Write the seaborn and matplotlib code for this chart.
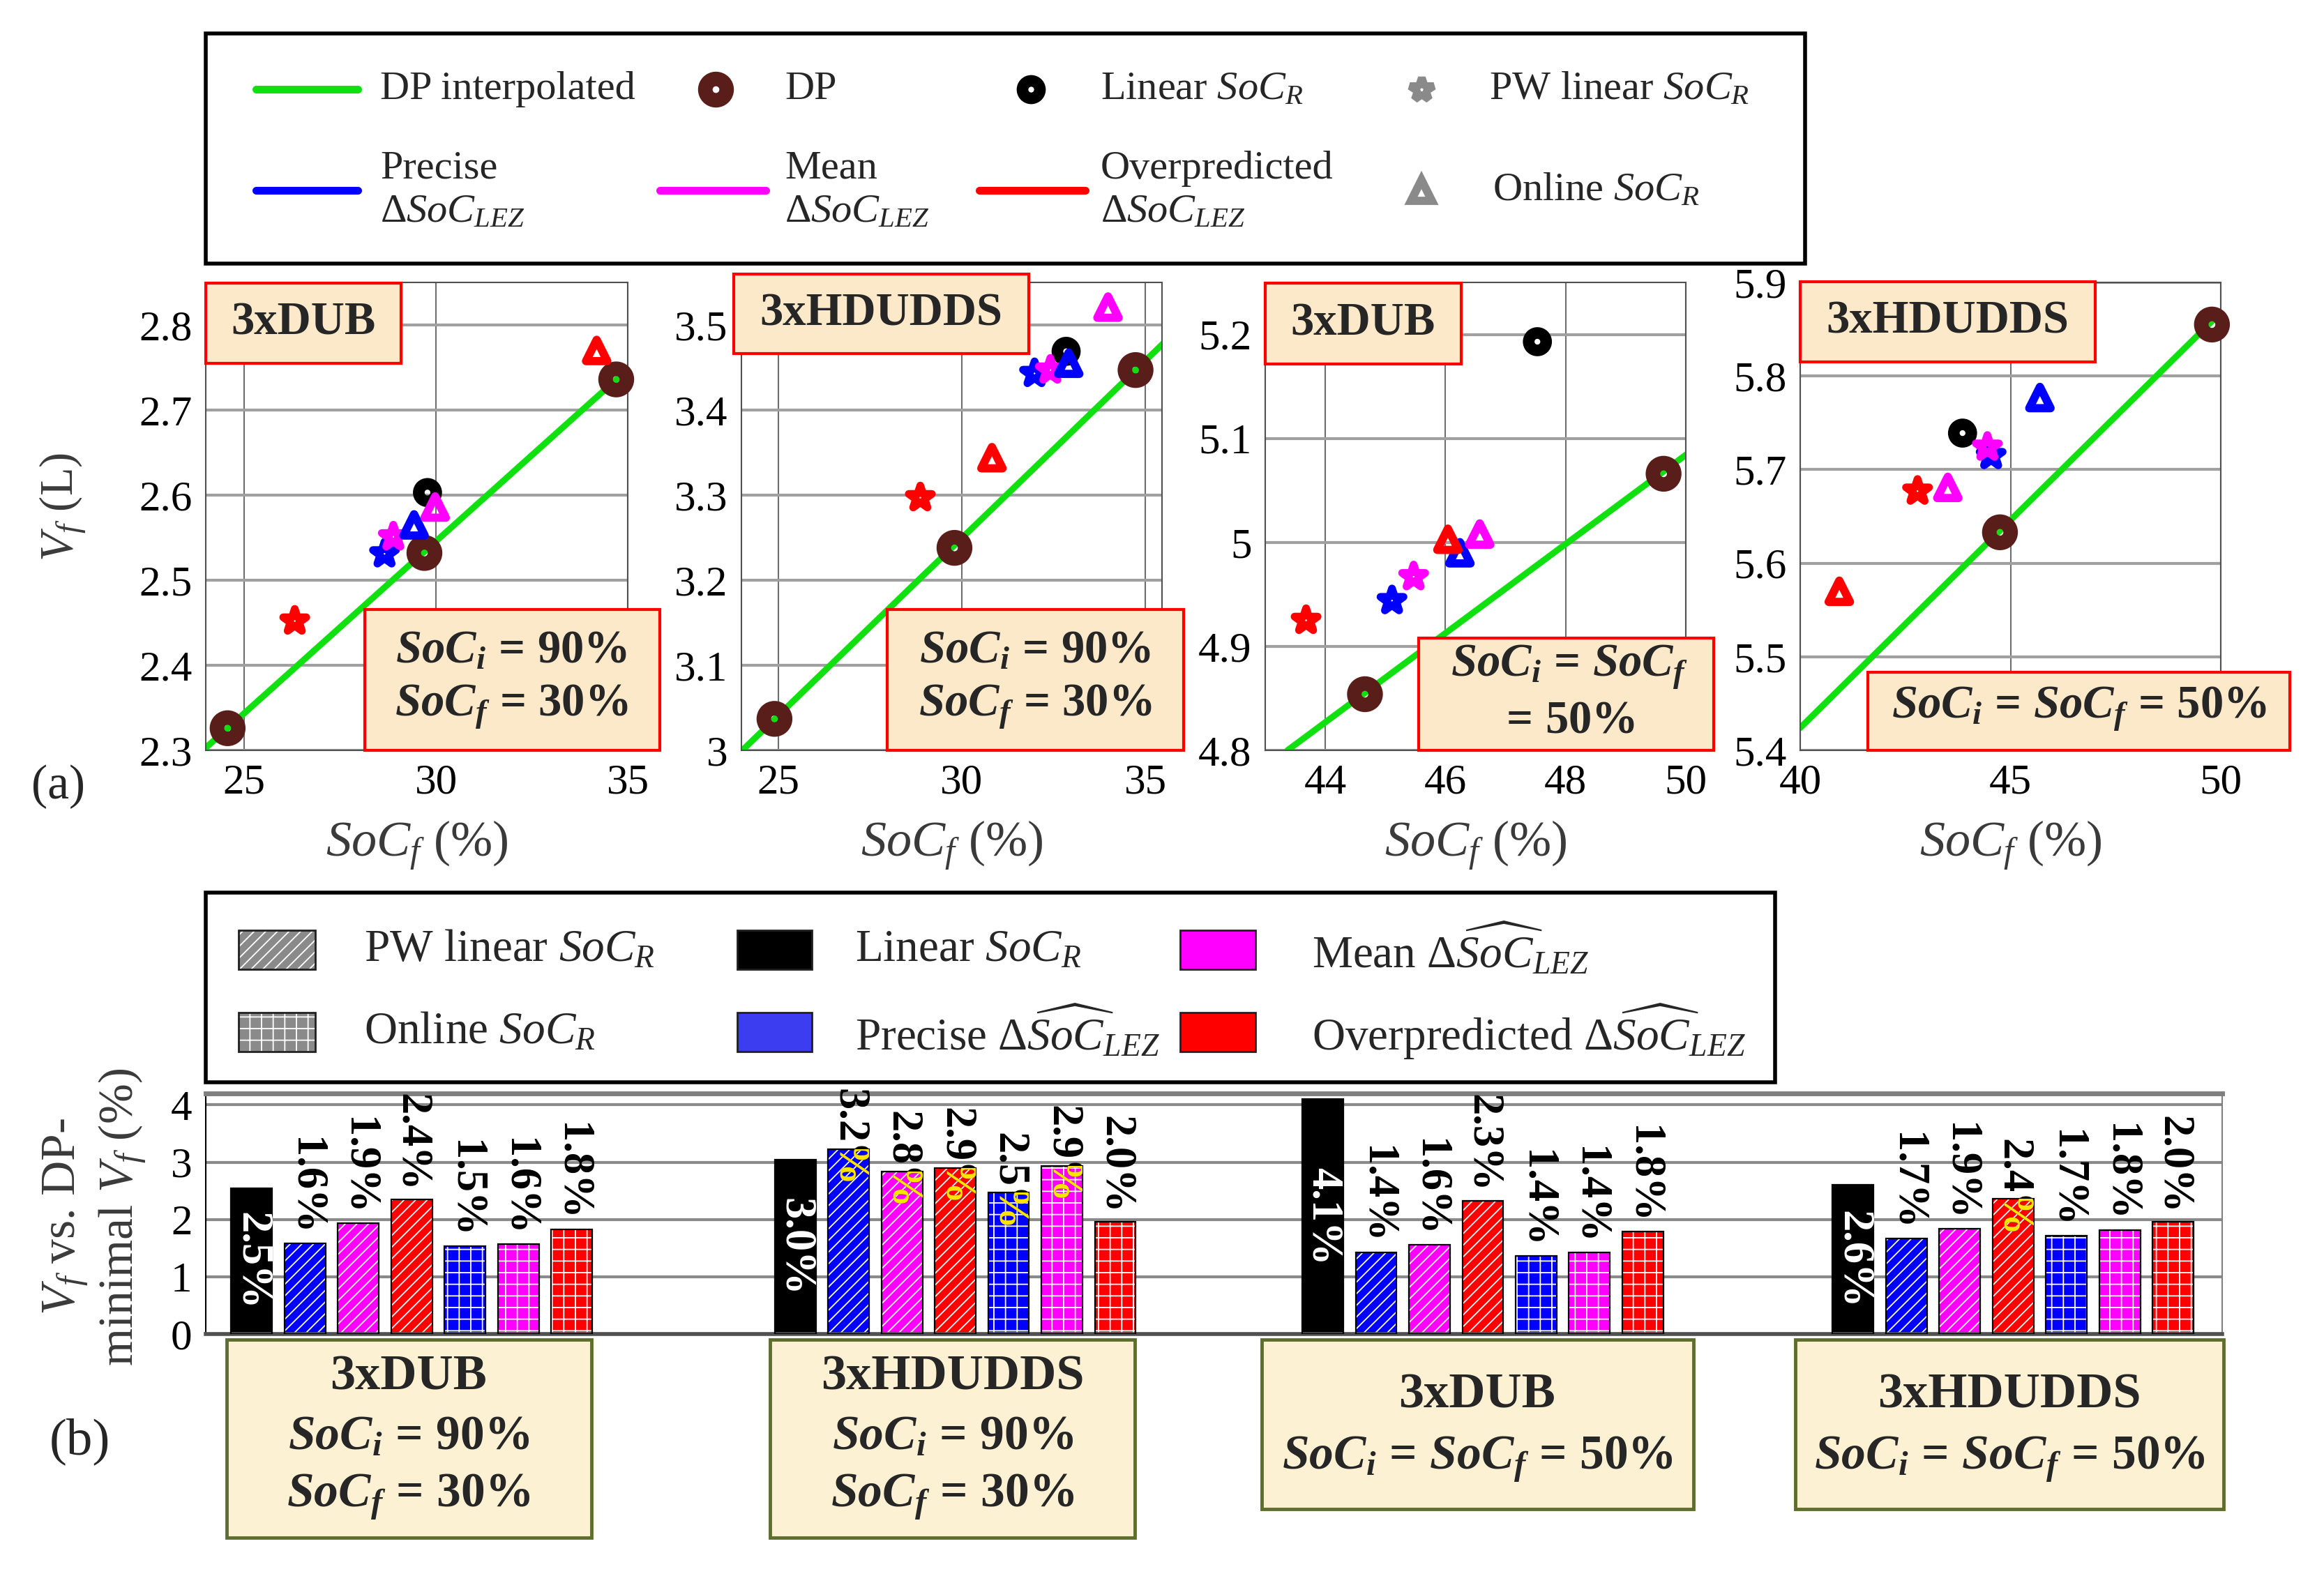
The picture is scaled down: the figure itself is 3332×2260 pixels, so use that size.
"""
plot.py
-------
Final-SoC / fuel-volume scatter panels (a) and relative fuel-increase bars (b).
Run: python plot.py  ->  out.png
"""

import matplotlib
matplotlib.use("Agg")
import matplotlib.pyplot as plt
from matplotlib.patches import Rectangle
from matplotlib.lines import Line2D
from matplotlib.ticker import FuncFormatter
from matplotlib import mathtext
import seaborn as sns

sns.set_style("whitegrid")
plt.rcParams["font.family"] = ["Liberation Serif", "DejaVu Serif"]
plt.rcParams["mathtext.fontset"] = "custom"
plt.rcParams["mathtext.rm"] = "Liberation Serif"
plt.rcParams["mathtext.it"] = "Liberation Serif:italic"
plt.rcParams["mathtext.bf"] = "Liberation Serif:bold"
try:
    plt.rcParams["mathtext.bfit"] = "Liberation Serif:italic:bold"
    mathtext.MathTextParser("path").parse(r"$\mathbfit{S}$")
    BFIT = r"\mathbfit"
except Exception:
    BFIT = r"\mathit"
plt.rcParams["hatch.linewidth"] = 1.3

# ---------- data: (a) scatter panels ------------------------------------
# DP interpolated line (end points)
LINE_X = [[24.0, 35.0], [24.0, 35.5], [43.37, 50.02], [40.0, 49.8]]
LINE_Y = [[2.303, 2.748], [2.999, 3.479], [4.80, 5.085], [5.424, 5.859]]

# DP optimum points
DP_X = [[24.57, 29.70, 34.70], [24.90, 29.80, 34.73], [44.66, 49.63], [44.75, 49.79]]
DP_Y = [[2.326, 2.532, 2.736], [3.037, 3.238, 3.447], [4.854, 5.066], [5.633, 5.855]]

# Linear SoC_R (one point per panel)
LIN_X = [29.78, 32.84, 47.53, 43.86]
LIN_Y = [2.603, 3.469, 5.193, 5.739]

# PW linear SoC_R, order: precise, mean, overpredicted
PW_X = [[28.66, 28.89, 26.32], [31.98, 32.41, 28.87], [45.11, 45.47, 43.68], [44.54, 44.45, 42.79]]
PW_Y = [[2.531, 2.551, 2.452], [3.443, 3.447, 3.297], [4.944, 4.967, 4.925], [5.715, 5.724, 5.677]]

# Online SoC_R, order: precise, mean, overpredicted
ON_X = [[29.43, 29.98, 34.19], [32.91, 33.98, 30.82], [46.24, 46.57, 46.04], [45.70, 43.51, 40.93]]
ON_Y = [[2.565, 2.586, 2.770], [3.455, 3.521, 3.344], [4.990, 5.008, 5.003], [5.777, 5.681, 5.570]]

XLIMS = [(24, 35), (24, 35.45), (43, 50), (40, 50)]
YLIMS = [(2.3, 2.85), (3.0, 3.55), (4.8, 5.25), (5.4, 5.9)]
XTICKS = [[25, 30, 35], [25, 30, 35], [44, 46, 48, 50], [40, 45, 50]]
YTICKS = [[2.3, 2.4, 2.5, 2.6, 2.7, 2.8], [3.0, 3.1, 3.2, 3.3, 3.4, 3.5],
          [4.8, 4.9, 5.0, 5.1, 5.2], [5.4, 5.5, 5.6, 5.7, 5.8, 5.9]]

# ---------- data: (b) bars ----------------------------------------------
# per group: linear, PW precise, PW mean, PW over, online precise, online mean, online over
BAR_VALUES = [
    [2.55, 1.58, 1.94, 2.35, 1.53, 1.57, 1.83],
    [3.04, 3.23, 2.84, 2.90, 2.47, 2.94, 1.96],
    [4.10, 1.43, 1.56, 2.33, 1.36, 1.42, 1.79],
    [2.60, 1.67, 1.84, 2.36, 1.72, 1.82, 1.96],
]
BAR_LABELS = [
    ["2.5%", "1.6%", "1.9%", "2.4%", "1.5%", "1.6%", "1.8%"],
    ["3.0%", "3.2%", "2.8%", "2.9%", "2.5%", "2.9%", "2.0%"],
    ["4.1%", "1.4%", "1.6%", "2.3%", "1.4%", "1.4%", "1.8%"],
    ["2.6%", "1.7%", "1.9%", "2.4%", "1.7%", "1.8%", "2.0%"],
]
# labels whose "%" sits inside the bar (drawn yellow there)
PCT_INSIDE = [
    [0, 0, 0, 0, 0, 0, 0],
    [0, 1, 1, 1, 1, 1, 0],
    [0, 0, 0, 0, 0, 0, 0],
    [0, 0, 0, 1, 0, 0, 0],
]
BAR_TICKS = [0, 1, 2, 3, 4]

# ---------- styles -------------------------------------------------------
GREEN = "#10e010"
BROWN = "#5a1e1a"
BLUE = "#0000ff"
MAGENTA = "#ff00ff"
RED = "#ff0000"
GRAY = "#8a8a8a"
TRIO = [BLUE, MAGENTA, RED]
BAR_COLORS = ["black", BLUE, MAGENTA, RED, BLUE, MAGENTA, RED]
BAR_HATCH = [None, "//", "//", "//", "+", "+", "+"]
BOX_FACE = "#fce9c9"
BOX2_FACE = "#fdf1d4"
BOX2_EDGE = "#5e6e2c"
LABEL_C = "#3a3a3a"

W, H = 3332, 2260
fig = plt.figure(figsize=(W / 100, H / 100), dpi=100)


def fx(x):
    return x / W


def fy(y):
    return 1 - y / H


def add_axes_px(x0, y0, x1, y1):
    return fig.add_axes([fx(x0), fy(y1), (x1 - x0) / W, (y1 - y0) / H])


def box_px(x0, y0, x1, y1, face, edge, lw=3.0, z=5, hatch=None):
    fig.add_artist(Rectangle((fx(x0), fy(y1)), (x1 - x0) / W, (y1 - y0) / H,
                             transform=fig.transFigure, facecolor=face,
                             edgecolor=edge, linewidth=lw, hatch=hatch, zorder=z))


def text_px(x, y, s, **kw):
    kw.setdefault("ha", "center")
    kw.setdefault("va", "center")
    fig.text(fx(x), fy(y), s, zorder=7, **kw)


def soc(sub):
    return rf"{BFIT}{{SoC}}_{{{BFIT}{{{sub}}}}}"


EQ = r"\,\mathbf{=}\,"


def eq_line(sub, rest):
    return rf"${soc(sub)}{EQ}\mathbf{{{rest}}}$"


BOTH50 = rf"${soc('i')}{EQ}{soc('f')}{EQ}\mathbf{{50\%}}$"

fmt = FuncFormatter(lambda v, p: f"{v:g}")

# ---------- (a) scatter panels ------------------------------------------
PANEL_PX = [(295, 405, 900, 1076), (1063, 405, 1666, 1076),
            (1814, 405, 2417, 1076), (2581, 405, 3184, 1076)]

for k in range(4):
    ax = add_axes_px(*PANEL_PX[k])
    sns.lineplot(x=LINE_X[k], y=LINE_Y[k], color=GREEN, linewidth=6.5, ax=ax, zorder=2)
    sns.scatterplot(x=DP_X[k], y=DP_Y[k], marker="o", s=22 ** 2, color=BROWN,
                    facecolor="none", edgecolor=BROWN, linewidth=15, ax=ax,
                    zorder=3, clip_on=False)
    sns.scatterplot(x=[LIN_X[k]], y=[LIN_Y[k]], marker="o", s=18 ** 2, color="black",
                    facecolor="none", edgecolor="black", linewidth=12, ax=ax,
                    zorder=4, clip_on=False)
    for i, c in enumerate(TRIO):
        sns.scatterplot(x=[PW_X[k][i]], y=[PW_Y[k][i]], marker="*", s=25 ** 2, color=c,
                        facecolor="none", edgecolor=c, linewidth=8, ax=ax,
                        zorder=5, clip_on=False)
    for i, c in enumerate(TRIO):
        sns.scatterplot(x=[ON_X[k][i]], y=[ON_Y[k][i]], marker="^", s=22 ** 2, color=c,
                        facecolor="none", edgecolor=c, linewidth=8.5, ax=ax,
                        zorder=6, clip_on=False)
    ax.set_xlim(*XLIMS[k])
    ax.set_ylim(*YLIMS[k])
    ax.set_xticks(XTICKS[k])
    ax.set_yticks(YTICKS[k])
    ax.xaxis.set_major_formatter(fmt)
    ax.yaxis.set_major_formatter(fmt)
    ax.tick_params(labelsize=44, length=0, pad=14, colors="black")
    ax.grid(axis="y", color="#a0a0a0", linewidth=3)
    ax.grid(axis="x", color="#6e6e6e", linewidth=1.5)
    for sp in ax.spines.values():
        sp.set_color("#505050")
        sp.set_linewidth(1.5)
    ax.set_xlabel("")
    ax.set_ylabel("")
    cx = (PANEL_PX[k][0] + PANEL_PX[k][2]) / 2
    text_px(cx, 1213, r"$SoC_f$ (%)", fontsize=52, color=LABEL_C)

text_px(90, 727, r"$V_f$ (L)", fontsize=48, rotation=90, color=LABEL_C)
text_px(84, 1128, "(a)", fontsize=50)

# annotation boxes of the panels
box_px(295, 406, 575, 521, BOX_FACE, RED)
text_px(435, 463, "3xDUB", fontsize=48, fontweight="bold")
box_px(1052, 393, 1475, 507, BOX_FACE, RED)
text_px(1263, 450, "3xHDUDDS", fontsize=48, fontweight="bold")
box_px(1814, 406, 2095, 522, BOX_FACE, RED)
text_px(1954, 464, "3xDUB", fontsize=48, fontweight="bold")
box_px(2581, 404, 3004, 519, BOX_FACE, RED)
text_px(2792, 461, "3xHDUDDS", fontsize=48, fontweight="bold")

box_px(523, 874, 946, 1076, BOX_FACE, RED)
text_px(733, 934, eq_line("i", r"90\%"), fontsize=48)
text_px(733, 1014, eq_line("f", r"30\%"), fontsize=48)
box_px(1272, 874, 1697, 1076, BOX_FACE, RED)
text_px(1484, 934, eq_line("i", r"90\%"), fontsize=48)
text_px(1484, 1014, eq_line("f", r"30\%"), fontsize=48)
box_px(2034, 915, 2457, 1076, BOX_FACE, RED)
text_px(2250, 957, rf"${soc('i')}{EQ}{soc('f')}$", fontsize=48)
text_px(2247, 1034, r"$\mathbf{=}\,\mathbf{50\%}$", fontsize=48)
box_px(2678, 964, 3283, 1076, BOX_FACE, RED)
text_px(2981, 1017, BOTH50, fontsize=48)

# ---------- top legend (drawn by hand to keep the two rows aligned) -----
box_px(295, 48, 2588, 378, "white", "black", lw=4, z=1)
LEG_FS = 42
fig.add_artist(Line2D([fx(367), fx(513)], [fy(128)] * 2, color=GREEN, lw=8))
text_px(545, 128, "DP interpolated", fontsize=LEG_FS, ha="left")
fig.add_artist(Line2D([fx(1026)], [fy(128)], marker="o", ms=22, mew=15,
                      mfc="none", mec=BROWN, ls="none"))
text_px(1125, 128, "DP", fontsize=LEG_FS, ha="left")
fig.add_artist(Line2D([fx(1478)], [fy(128)], marker="o", ms=18, mew=12,
                      mfc="none", mec="black", ls="none"))
text_px(1578, 128, r"Linear $SoC_R$", fontsize=LEG_FS, ha="left")
fig.add_artist(Line2D([fx(2038)], [fy(128)], marker="*", ms=25, mew=8,
                      mfc="none", mec=GRAY, ls="none"))
text_px(2135, 128, r"PW linear $SoC_R$", fontsize=LEG_FS, ha="left")

for x0, x1, c, xt, name in [(367, 513, BLUE, 545, "Precise"),
                            (946, 1098, MAGENTA, 1125, "Mean"),
                            (1404, 1556, RED, 1578, "Overpredicted")]:
    fig.add_artist(Line2D([fx(x0), fx(x1)], [fy(273)] * 2, color=c, lw=8))
    text_px(xt, 273, name + "\n" + r"$\Delta SoC_{LEZ}$", fontsize=LEG_FS,
            ha="left", linespacing=1.25)
fig.add_artist(Line2D([fx(2038)], [fy(273)], marker="^", ms=22, mew=8.5,
                      mfc="none", mec=GRAY, ls="none"))
text_px(2140, 273, r"Online $SoC_R$", fontsize=LEG_FS, ha="left")

# ---------- bottom legend -------------------------------------------------
box_px(295, 1280, 2545, 1552, "white", "black", lw=4, z=1)
LEG2_FS = 47
leg2 = [
    (342, 452, 1362, GRAY, "//", 522, r"PW linear $SoC_R$"),
    (342, 452, 1480, GRAY, "+", 522, r"Online $SoC_R$"),
    (1057, 1164, 1362, "black", None, 1226, r"Linear $SoC_R$"),
    (1057, 1164, 1480, "#3c3cf0", None, 1226, r"Precise $\Delta\widehat{SoC}_{LEZ}$"),
    (1692, 1800, 1362, MAGENTA, None, 1881, r"Mean $\Delta\widehat{SoC}_{LEZ}$"),
    (1692, 1800, 1480, RED, None, 1881, r"Overpredicted $\Delta\widehat{SoC}_{LEZ}$"),
]
for x0, x1, yc, c, h, xt, lab in leg2:
    box_px(x0, yc - 28, x1, yc + 28, c, "white", lw=0, z=2, hatch=h)
    box_px(x0, yc - 28, x1, yc + 28, "none", "#202020", lw=2, z=3)
    text_px(xt, yc, lab, fontsize=LEG2_FS, ha="left")

# ---------- (b) bars ------------------------------------------------------
GROUP_START = [0.86, 11.05, 20.94, 30.88]
BAR_W = 0.77
bar_ax = add_axes_px(295, 1568, 3186, 1913)
pos = [GROUP_START[g] + j for g in range(4) for j in range(7)]
vals = [v for grp in BAR_VALUES for v in grp]

sns.barplot(x=pos, y=vals, native_scale=True, width=BAR_W, errorbar=None,
            color="gray", ax=bar_ax, zorder=2)
fill_patches = list(bar_ax.patches)
for idx, p in enumerate(fill_patches):
    j = idx % 7
    p.set_facecolor(BAR_COLORS[j])
    p.set_edgecolor("white")
    p.set_linewidth(0)
    if BAR_HATCH[j]:
        p.set_hatch(BAR_HATCH[j])
sns.barplot(x=pos, y=vals, native_scale=True, width=BAR_W, errorbar=None,
            fill=False, color="black", linewidth=1.6, ax=bar_ax, zorder=3)

BAR_FS = 45
for g in range(4):
    for j in range(7):
        p = fill_patches[g * 7 + j]
        h = BAR_VALUES[g][j]
        xc = p.get_x() + p.get_width() / 2
        lab = BAR_LABELS[g][j]
        if j == 0:
            bar_ax.text(xc, h / 2, lab, rotation=270, ha="center", va="center",
                        fontsize=BAR_FS, fontweight="bold", color="white", zorder=5)
            continue
        y0 = h - 0.66 if PCT_INSIDE[g][j] else h + 0.14
        bar_ax.text(xc, y0, lab, rotation=270, ha="center", va="bottom",
                    fontsize=BAR_FS, fontweight="bold", color="black", zorder=5,
                    clip_on=False)
        if PCT_INSIDE[g][j]:
            t = bar_ax.text(xc, y0, lab, rotation=270, ha="center", va="bottom",
                            fontsize=BAR_FS, fontweight="bold", color="#ffe600",
                            zorder=6, clip_on=True)
            t.set_clip_path(p)

bar_ax.set_xlim(0, 37.8)
bar_ax.set_ylim(0, 4.2)
bar_ax.set_yticks(BAR_TICKS)
bar_ax.set_xticks([])
bar_ax.set_xlabel("")
bar_ax.set_ylabel("")
bar_ax.tick_params(labelsize=44, length=0, pad=14, colors="black")
bar_ax.grid(axis="y", color="#8a8a8a", linewidth=3)
bar_ax.grid(axis="x", visible=False)
bar_ax.spines["left"].set_color("black")
bar_ax.spines["left"].set_linewidth(1.5)
bar_ax.spines["bottom"].set_color("#505050")
bar_ax.spines["bottom"].set_linewidth(4)
bar_ax.spines["top"].set_color("#808080")
bar_ax.spines["top"].set_linewidth(5)
bar_ax.spines["right"].set_color("#808080")
bar_ax.spines["right"].set_linewidth(1.5)

text_px(136, 1745, "$V_f$ vs. DP-\nminimal $V_f$ (%)", fontsize=50, rotation=90,
        linespacing=1.2, color=LABEL_C)
text_px(114, 2067, "(b)", fontsize=54)

# group boxes under the bars
box_px(325, 1921, 848, 2205, BOX2_FACE, BOX2_EDGE, lw=3.5)
text_px(586, 1975, "3xDUB", fontsize=52, fontweight="bold")
text_px(586, 2062, eq_line("i", r"90\%"), fontsize=50)
text_px(586, 2147, eq_line("f", r"30\%"), fontsize=50)
box_px(1104, 1921, 1627, 2205, BOX2_FACE, BOX2_EDGE, lw=3.5)
text_px(1366, 1975, "3xHDUDDS", fontsize=52, fontweight="bold")
text_px(1366, 2062, eq_line("i", r"90\%"), fontsize=50)
text_px(1366, 2147, eq_line("f", r"30\%"), fontsize=50)
box_px(1809, 1921, 2428, 2164, BOX2_FACE, BOX2_EDGE, lw=3.5)
text_px(2118, 2001, "3xDUB", fontsize=52, fontweight="bold")
text_px(2118, 2093, BOTH50, fontsize=50)
box_px(2574, 1921, 3188, 2164, BOX2_FACE, BOX2_EDGE, lw=3.5)
text_px(2881, 2001, "3xHDUDDS", fontsize=52, fontweight="bold")
text_px(2881, 2093, BOTH50, fontsize=50)

fig.savefig("out.png", dpi=100)
plt.close(fig)
